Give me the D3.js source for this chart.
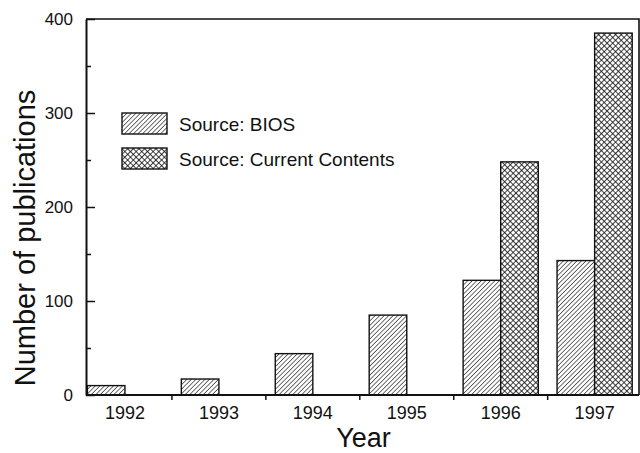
<html>
<head>
<script src="https://d3js.org/d3.v7.min.js"></script>
<style>
body { margin: 0; background: #fff; }
svg { display: block; font-family: 'Liberation Sans', Arial, Helvetica, sans-serif; }
.axis path, .axis line { stroke: #111; }
.axis text { fill: #111; }
</style>
</head>
<body>
<svg width="640" height="453"></svg>
<script>

// chart data
var years = ["1992", "1993", "1994", "1995", "1996", "1997"];
var bios = [10, 17, 44, 85, 122, 143];
var currentContents = [0, 0, 0, 0, 248, 385];
var seriesNames = ["Source: BIOS", "Source: Current Contents"];
var yTicks = [0, 100, 200, 300, 400];
var yMinorTicks = [50, 150, 250, 350];

var svg = d3.select("svg");

var frame = { left: 86, right: 639, top: 19, bottom: 395 };

var x = d3.scaleBand().domain(years).range([78, 641.6]).padding(0);
var xSeries = d3.scaleBand().domain([0, 1]).range([0, x.bandwidth()])
  .paddingInner(0).paddingOuter(0.25);
var y = d3.scaleLinear().domain([0, 400]).range([frame.bottom, frame.top]);

// hatch patterns
var defs = svg.append("defs");
var hatch = defs.append("pattern")
  .attr("id", "hatch")
  .attr("patternUnits", "userSpaceOnUse")
  .attr("width", 3.2).attr("height", 3.2)
  .attr("patternTransform", "rotate(45)");
hatch.append("rect").attr("width", 3.2).attr("height", 3.2).attr("fill", "#fff");
hatch.append("line")
  .attr("x1", 0).attr("y1", 0).attr("x2", 0).attr("y2", 3.2)
  .attr("stroke", "#222").attr("stroke-width", 1.3);

var cross = defs.append("pattern")
  .attr("id", "cross")
  .attr("patternUnits", "userSpaceOnUse")
  .attr("width", 4).attr("height", 4)
  .attr("patternTransform", "rotate(45)");
cross.append("rect").attr("width", 4).attr("height", 4).attr("fill", "#fff");
cross.append("line")
  .attr("x1", 0).attr("y1", 0).attr("x2", 0).attr("y2", 4)
  .attr("stroke", "#111").attr("stroke-width", 1.6);
cross.append("line")
  .attr("x1", 0).attr("y1", 0).attr("x2", 4).attr("y2", 0)
  .attr("stroke", "#111").attr("stroke-width", 1.6);

var fills = ["url(#hatch)", "url(#cross)"];

// bars
var rows = years.map(function (yr, i) {
  return { year: yr, values: [bios[i], currentContents[i]] };
});

var groups = svg.selectAll("g.year").data(rows).enter()
  .append("g").attr("class", "year")
  .attr("transform", function (d) { return "translate(" + x(d.year) + ",0)"; });

groups.selectAll("rect")
  .data(function (d) {
    return d.values.map(function (v, k) { return { k: k, v: v }; })
      .filter(function (e) { return e.v > 0; });
  })
  .enter().append("rect")
  .attr("x", function (d) { return xSeries(d.k); })
  .attr("y", function (d) { return y(d.v); })
  .attr("width", xSeries.bandwidth())
  .attr("height", function (d) { return y(0) - y(d.v); })
  .attr("fill", function (d) { return fills[d.k]; })
  .attr("stroke", "#111")
  .attr("stroke-width", 1.4);

// frame (top and right)
svg.append("path")
  .attr("d", "M" + frame.left + "," + frame.top + "H" + frame.right + "V" + frame.bottom)
  .attr("fill", "none").attr("stroke", "#111").attr("stroke-width", 1.6);

// y axis
var yAxis = svg.append("g").attr("class", "axis")
  .attr("transform", "translate(" + frame.left + ",0)")
  .call(d3.axisLeft(y).tickValues(yTicks).tickSizeInner(-9).tickSizeOuter(0).tickPadding(22));
yAxis.select(".domain").attr("stroke-width", 2);
yAxis.selectAll(".tick line").attr("stroke-width", 1.5);
yAxis.selectAll("text").attr("font-size", 17).attr("x", -13);

svg.append("g").attr("class", "axis")
  .attr("transform", "translate(" + frame.left + ",0)")
  .call(d3.axisLeft(y).tickValues(yMinorTicks).tickSizeInner(-5).tickSizeOuter(0).tickFormat(""))
  .call(function (g) { g.select(".domain").remove(); })
  .selectAll(".tick line").attr("stroke-width", 1.5);

// x axis
var xAxis = svg.append("g").attr("class", "axis")
  .attr("transform", "translate(0," + frame.bottom + ")")
  .call(d3.axisBottom(x).tickSize(0).tickPadding(11));
xAxis.select(".domain").remove();
xAxis.selectAll("text").attr("font-size", 18);

svg.append("line")
  .attr("x1", frame.left).attr("x2", frame.right)
  .attr("y1", frame.bottom).attr("y2", frame.bottom)
  .attr("stroke", "#111").attr("stroke-width", 2);

svg.selectAll("line.xtick").data(years.slice(1)).enter()
  .append("line").attr("class", "xtick")
  .attr("x1", function (d) { return x(d); })
  .attr("x2", function (d) { return x(d); })
  .attr("y1", frame.bottom).attr("y2", frame.bottom + 5)
  .attr("stroke", "#111").attr("stroke-width", 1.5);

// axis titles
svg.append("text")
  .attr("x", (frame.left + frame.right) / 2 + 1)
  .attr("y", 447)
  .attr("text-anchor", "middle")
  .attr("font-size", 27)
  .attr("fill", "#111")
  .text("Year");

svg.append("text")
  .attr("transform", "translate(35,238) rotate(-90)")
  .attr("text-anchor", "middle")
  .attr("font-size", 29)
  .attr("fill", "#111")
  .text("Number of publications");

// legend
var legend = svg.selectAll("g.legend").data(seriesNames).enter()
  .append("g").attr("class", "legend")
  .attr("transform", function (d, i) { return "translate(122," + (113 + i * 35) + ")"; });

legend.append("rect")
  .attr("width", 45).attr("height", 21)
  .attr("fill", function (d, i) { return fills[i]; })
  .attr("stroke", "#111").attr("stroke-width", 1.4);

legend.append("text")
  .attr("x", 57).attr("y", 18)
  .attr("font-size", 19)
  .attr("fill", "#111")
  .text(function (d) { return d; });

</script>
</body>
</html>
